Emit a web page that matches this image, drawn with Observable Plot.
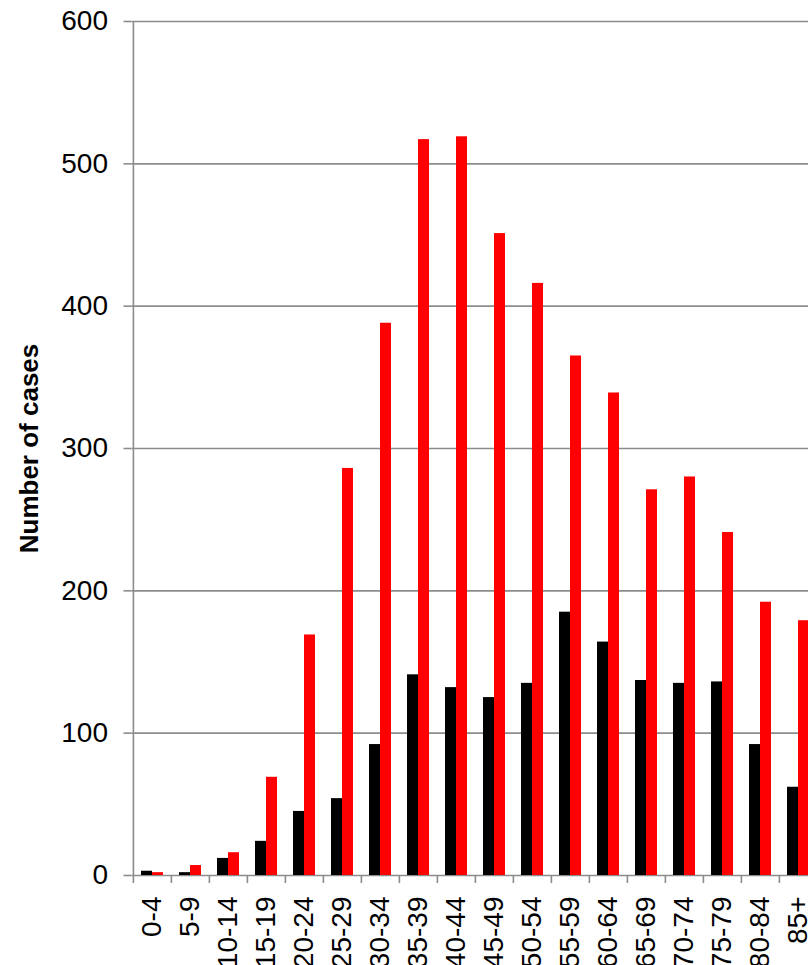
<!DOCTYPE html>
<html>
<head>
<meta charset="utf-8">
<script src="https://cdn.jsdelivr.net/npm/d3@7"></script>
<script src="https://cdn.jsdelivr.net/npm/@observablehq/plot@0.6"></script>
<style>
  html, body { margin: 0; padding: 0; background: #fff; overflow: hidden; }
  #chart { width: 808px; height: 965px; overflow: hidden; }
</style>
</head>
<body>
<div id="chart"></div>
<script>
const ages = ["0-4","5-9","10-14","15-19","20-24","25-29","30-34","35-39","40-44","45-49","50-54","55-59","60-64","65-69","70-74","75-79","80-84","85+"];
const blackSeries = [3,2,12,24,45,54,92,141,132,125,135,185,164,137,135,136,92,62];
const redSeries = [2,7,16,69,169,286,388,517,519,451,416,365,339,271,280,241,192,179];
const yTicks = [0,100,200,300,400,500,600];
const yLabel = "Number of cases";

const data = ages.map((a, i) => ({age: a, black: blackSeries[i], red: redSeries[i]}));
const gray = "#8c8c8c";
const font = "'Liberation Sans', Arial, sans-serif";
const half = 38.2 / 2;

const chart = Plot.plot({
  width: 808,
  height: 965,
  marginLeft: 131.5,
  marginRight: 0,
  marginTop: 21,
  marginBottom: 90,
  style: {fontFamily: font, fontSize: "28px", background: "transparent", overflow: "hidden"},
  x: {domain: ages, range: [131.5, 819], paddingInner: 0.42, paddingOuter: 0.21, axis: null},
  y: {domain: [0, 600], axis: null},
  marks: [
    Plot.gridY(yTicks, {stroke: gray, strokeOpacity: 1, strokeWidth: 1.6}),
    Plot.barY(data, {x: "age", y: "black", fill: "#000000", insetRight: 11}),
    Plot.barY(data, {x: "age", y: "red", fill: "#ff0000", insetLeft: 11}),
    Plot.ruleX([ages[0]], {x: d => d, dx: -half, y1: 0, y2: 600, stroke: gray, strokeWidth: 1.6}),
    Plot.axisY(yTicks, {tickSize: 8, tickPadding: 16, stroke: gray, strokeWidth: 1.6, fontSize: 28, fill: "#000", label: null}),
    Plot.axisX(ages, {tickSize: 8, tickFormat: () => "", dx: -half, stroke: gray, strokeWidth: 1.6, label: null}),
    Plot.axisX(ages, {tickSize: 0, tickPadding: 21, tickRotate: -90, fontSize: 28, fill: "#000", label: null}),
    Plot.text([yLabel], {frameAnchor: "left", textAnchor: "middle", dx: -102, rotate: -90, fontSize: 26, fontWeight: "bold", fill: "#000"})
  ]
});
document.getElementById("chart").appendChild(chart);
</script>
</body>
</html>
